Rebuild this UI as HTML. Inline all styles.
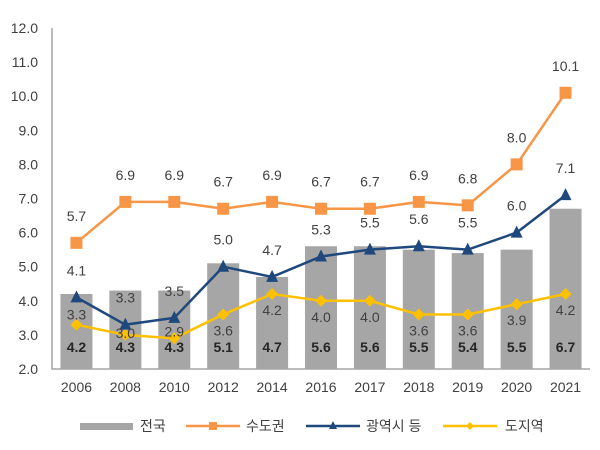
<!DOCTYPE html>
<html><head><meta charset="utf-8"><style>
body{margin:0;background:#fff;}
svg{font-family:"Liberation Sans","Noto Sans CJK KR",sans-serif;}
</style></head><body>
<svg id="c" width="600" height="445"></svg>
<script>
const categories=["2006","2008","2010","2012","2014","2016","2017","2018","2019","2020","2021"];
const national=[4.2,4.3,4.3,5.1,4.7,5.6,5.6,5.5,5.4,5.5,6.7];
const capital=[5.7,6.9,6.9,6.7,6.9,6.7,6.7,6.9,6.8,8.0,10.1];
const metro=[4.1,3.3,3.5,5.0,4.7,5.3,5.5,5.6,5.5,6.0,7.1];
const province=[3.3,3.0,2.9,3.6,4.2,4.0,4.0,3.6,3.6,3.9,4.2];
const yTicks=[2,3,4,5,6,7,8,9,10,11,12];
const NS="http://www.w3.org/2000/svg";
const svg=document.getElementById('c');
const x0=52,x1=590,yTop=28,yBot=369,yMin=2,yMax=12;
const step=(x1-x0)/categories.length;
const X=i=>x0+step*(i+0.5);
const Y=v=>yBot-(v-yMin)/(yMax-yMin)*(yBot-yTop);
function mk(t,a,p){const e=document.createElementNS(NS,t);for(const k in a)e.setAttribute(k,a[k]);(p||svg).appendChild(e);return e;}
function txt(s,x,y,o){const e=mk('text',Object.assign({x:x,y:y,'font-size':14,fill:'#404040','text-anchor':'middle'},o||{}));e.textContent=s;return e;}
yTicks.forEach(v=>{const t=txt(v.toFixed(1),38,Y(v)+5,{'text-anchor':'end'});

});
categories.forEach((c,i)=>{const t=txt(c,X(i),392);

});
national.forEach((v,i)=>{const r=mk('rect',{x:X(i)-16,y:Y(v),width:32,height:yBot-Y(v),fill:'#a6a6a6'});

});
const ax=mk('path',{d:`M${x0},${yTop} V${yBot} H${x1}`,stroke:'#a6a6a6','stroke-width':1.5,fill:'none'});


function marker(type,x,y,col,s){
 if(type==='sq')return mk('rect',{x:x-s,y:y-s,width:2*s,height:2*s,fill:col});
 if(type==='tri')return mk('polygon',{points:`${x},${y-s-1} ${x-s},${y+s-1} ${x+s},${y+s-1}`,fill:col});
 return mk('polygon',{points:`${x},${y-s} ${x+s},${y} ${x},${y+s} ${x-s},${y}`,fill:col});}
function series(d,col,type,name){
 const l=mk('polyline',{points:d.map((v,i)=>X(i)+','+Y(v)).join(' '),stroke:col,'stroke-width':2.5,fill:'none'});
 
 
 d.forEach((v,i)=>{const m=marker(type,X(i),Y(v),col,6);
 
 });
 return l;}
series(province,'#ffc000','dia','province');
series(metro,'#1f497d','tri','metro');
series(capital,'#f79646','sq','capital');
capital.forEach((v,i)=>{const t=txt(v.toFixed(1),X(i),Y(v)-22);});
metro.forEach((v,i)=>{const t=txt(v.toFixed(1),X(i),Y(v)-22);});
const provOff=[-5,3,-2];
province.forEach((v,i)=>{const t=txt(v.toFixed(1),X(i),Y(v)+(i<3?provOff[i]:21));});
national.forEach((v,i)=>{const t=txt(v.toFixed(1),X(i),352,{'font-weight':'bold','fill':'#262626'});});
const lg=mk('g',{});


mk('rect',{x:80,y:423,width:53,height:7,fill:'#a6a6a6'},lg);
txt('전국',140,431,{'text-anchor':'start'});
mk('line',{x1:186,y1:426,x2:240,y2:426,stroke:'#f79646','stroke-width':2.5},lg);
marker('sq',213,426,'#f79646',4);
txt('수도권',246,431,{'text-anchor':'start'});
mk('line',{x1:306,y1:426,x2:360,y2:426,stroke:'#1f497d','stroke-width':2.5},lg);
marker('tri',333,426,'#1f497d',4);
txt('광역시 등',366,431,{'text-anchor':'start'});
mk('line',{x1:443,y1:426,x2:497,y2:426,stroke:'#ffc000','stroke-width':2.5},lg);
marker('dia',470,426,'#ffc000',4);
txt('도지역',505,431,{'text-anchor':'start'});
</script>
</body></html>
